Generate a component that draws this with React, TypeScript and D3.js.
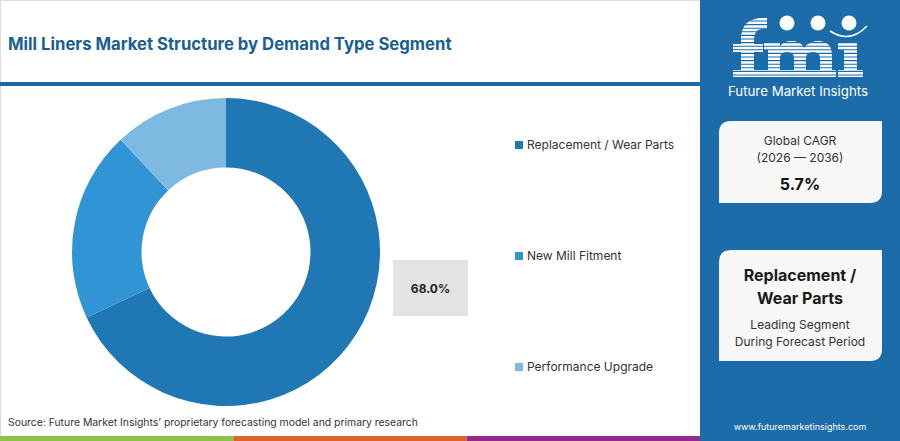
import React from "react";
import * as d3 from "d3";

const segments = ["Replacement / Wear Parts", "New Mill Fitment", "Performance Upgrade"];
const shares = [68, 20, 12];
const colors = ["#1f77b4", "#3194d4", "#7db9e0"];
const barColors = ["#8bc34a", "#e2622b", "#8e2d8e"];

const W = 900;
const H = 441;
const FONT = "Inter, 'Open Sans', sans-serif";
const PANEL = "#1b6ca9";

const App: React.FC = () => {
  const cx = 226;
  const cy = 252;
  const pie = d3
    .pie<number>()
    .sort(null)
    .value((d) => d);
  const arcs = pie(shares);
  const arc = d3.arc<d3.PieArcDatum<number>>().innerRadius(84.5).outerRadius(154);

  const legendY = d3.scalePoint<string>().domain(segments).range([145, 367]);
  const barX = d3.scaleBand<number>().domain([0, 1, 2]).range([0, 700]);

  // card with rounded top-left and bottom-right corners
  const card = (x: number, y: number, w: number, h: number, r: number) =>
    `M${x + r},${y} H${x + w} V${y + h - r} Q${x + w},${y + h} ${x + w - r},${y + h} H${x} V${y + r} Q${x},${y} ${x + r},${y} Z`;

  const stripes = d3.range(21, 80, 3.6);

  return (
    <div style={{ position: "fixed", left: 0, top: 0 }}>
      <svg width={W} height={H} style={{ display: "block" }}>
        <rect x={0} y={0} width={W} height={H} fill="#fff" />
        <line x1={0.5} y1={0} x2={0.5} y2={H} stroke="#ddd" />
        <line x1={0} y1={0.5} x2={700} y2={0.5} stroke="#ddd" />

        <text x={8} y={50} fontFamily={FONT} fontWeight={700} fontSize={16.7} fill="#1a5f93">
          Mill Liners Market Structure by Demand Type Segment
        </text>
        <rect x={0} y={82} width={700} height={4} fill="#1b6aa5" />

        <g transform={`translate(${cx},${cy})`}>
          {arcs.map((a, i) => (
            <path key={i} d={arc(a) || ""} fill={colors[i]} />
          ))}
        </g>

        <rect x={393} y={260} width={75} height={56} fill="#e3e3e3" />
        <text x={430.5} y={292.5} textAnchor="middle" fontFamily={FONT} fontWeight={700} fontSize={12} fill="#222">
          {d3.format(".1f")(shares[0])}%
        </text>

        {segments.map((s, i) => (
          <g key={s}>
            <rect x={515} y={(legendY(s) as number) - 4} width={8} height={8} fill={colors[i]} />
            <text x={527} y={(legendY(s) as number) + 4} fontFamily={FONT} fontSize={12} fill="#333">
              {s}
            </text>
          </g>
        ))}

        <text x={8} y={426} fontFamily={FONT} fontSize={10.4} fill="#333">
          Source: Future Market Insights’ proprietary forecasting model and primary research
        </text>
        {barColors.map((c, i) => (
          <rect key={c} x={barX(i)} y={436} width={barX.bandwidth()} height={5} fill={c} />
        ))}

        {/* right panel */}
        <rect x={700} y={0} width={200} height={H} fill={PANEL} />
        <g fill="#fff">
          {/* f */}
          <rect x={741} y={34} width={13} height={43} />
          <path d="M741,40 Q741,18 763,18 L767,18 L767,29 Q754,27 754,40 Z" />
          <rect x={733} y={44} width={30} height={8} />
          <rect x={733} y={70} width={30} height={7} />
          {/* m */}
          <path d="M768,77 L768,50 L764,50 L764,42 L780,42 L780,46 Q784,41 792,41 Q801,41 804,48 Q809,41 818,41 Q832,41 832,56 L832,77 L820,77 L820,58 Q820,52 813,52 Q806,52 806,58 L806,77 L794,77 L794,58 Q794,52 787,52 Q780,52 780,58 L780,77 Z" />
          <rect x={763} y={70} width={73} height={7} />
          {/* i */}
          <rect x={844} y={42} width={13} height={35} />
          <rect x={838} y={42} width={19} height={8} />
          <rect x={838} y={70} width={25} height={7} />
        </g>
        {stripes.map((y) => (
          <line key={y} x1={728} x2={868} y1={y} y2={y} stroke={PANEL} strokeWidth={1.1} />
        ))}
        {[787, 818, 849].map((x) => (
          <circle key={x} cx={x} cy={23} r={7.5} fill="#fff" />
        ))}
        <path d="M830,31 Q850,44 867,26" fill="none" stroke="#fff" strokeWidth={1.5} />
        <text x={798} y={96} textAnchor="middle" fontFamily={FONT} fontSize={13.3} fill="#fff">
          Future Market Insights
        </text>

        <path d={card(719, 121, 163, 82, 12)} fill="#f7f7f7" />
        <text x={800} y={145} textAnchor="middle" fontFamily={FONT} fontSize={12} fill="#333">
          Global CAGR
        </text>
        <text x={800} y={162} textAnchor="middle" fontFamily={FONT} fontSize={12} fill="#333">
          (2026 — 2036)
        </text>
        <text x={800} y={190} textAnchor="middle" fontFamily={FONT} fontWeight={700} fontSize={16} fill="#111">
          5.7%
        </text>

        <path d={card(719, 250, 163, 111, 12)} fill="#f7f7f7" />
        <text x={800} y={281} textAnchor="middle" fontFamily={FONT} fontWeight={700} fontSize={16} fill="#1a1a1a">
          Replacement /
        </text>
        <text x={800} y={304} textAnchor="middle" fontFamily={FONT} fontWeight={700} fontSize={16} fill="#1a1a1a">
          Wear Parts
        </text>
        <text x={800} y={329} textAnchor="middle" fontFamily={FONT} fontSize={12} fill="#333">
          Leading Segment
        </text>
        <text x={800} y={346} textAnchor="middle" fontFamily={FONT} fontSize={12} fill="#333">
          During Forecast Period
        </text>

        <text x={800} y={430} textAnchor="middle" fontFamily={FONT} fontSize={9} fill="#fff">
          www.futuremarketinsights.com
        </text>
      </svg>
    </div>
  );
};

export default App;
